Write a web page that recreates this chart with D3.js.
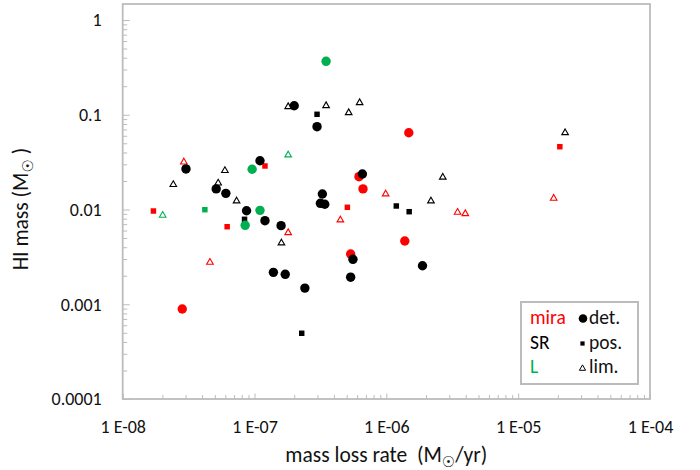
<!DOCTYPE html>
<html>
<head>
<meta charset="utf-8">
<script src="https://cdn.jsdelivr.net/npm/d3@7"></script>
<style>
  body { margin: 0; background: #fff; }
  svg text { font-family: Carlito, Calibri, Lato, sans-serif; fill: #111; }
</style>
</head>
<body>
<svg id="chart" width="700" height="470"></svg>
<script>
// HI mass vs mass loss rate, [mass loss rate, HI mass]
const miraDet = [[2.83e-8, 0.00089], [6.20e-7, 0.0222], [6.65e-7, 0.0165], [1.48e-6, 0.0646], [1.38e-6, 0.00465], [5.36e-7, 0.00339]];
const miraPos = [[1.71e-8, 0.00964], [1.20e-7, 0.0288], [6.20e-8, 0.00658], [5.06e-7, 0.01055], [2.07e-5, 0.046]];
const miraLim = [[2.91e-8, 0.0317], [4.59e-8, 0.00277], [1.80e-7, 0.00569], [4.48e-7, 0.00775], [9.88e-7, 0.01458],
  [3.47e-6, 0.00934], [3.97e-6, 0.00903], [1.86e-5, 0.01313]];

const srDet = [[3.02e-8, 0.0268], [5.12e-8, 0.0165], [6.06e-8, 0.0148], [8.70e-8, 0.00971], [1.10e-7, 0.0327],
  [1.20e-7, 0.00762], [1.59e-7, 0.00675], [2.00e-7, 0.1246], [2.98e-7, 0.0748], [3.27e-7, 0.01458],
  [3.16e-7, 0.01162], [3.41e-7, 0.01135], [6.58e-7, 0.0237], [1.39e-7, 0.00217], [1.71e-7, 0.00207],
  [2.41e-7, 0.00148], [5.58e-7, 0.00298], [5.36e-7, 0.00193], [1.88e-6, 0.00255]];
const srPos = [[8.40e-8, 0.00788], [2.98e-7, 0.1011], [2.28e-7, 0.000494], [1.19e-6, 0.01089], [1.49e-6, 0.00948]];
const srLim = [[2.42e-8, 0.0183], [5.30e-8, 0.0190], [5.96e-8, 0.0257], [7.31e-8, 0.0123], [1.60e-7, 0.00443],
  [1.80e-7, 0.1216], [3.49e-7, 0.1246], [5.18e-7, 0.1051], [6.27e-7, 0.134], [2.18e-6, 0.0123],
  [2.68e-6, 0.0219], [2.27e-5, 0.0646]];

const lDet = [[3.49e-7, 0.3665], [9.59e-8, 0.0266], [1.10e-7, 0.0098], [8.49e-8, 0.00681]];
const lPos = [[4.20e-8, 0.00995]];
const lLim = [[2.01e-8, 0.00868], [1.80e-7, 0.0376]];

const xTicks = [1e-8, 1e-7, 1e-6, 1e-5, 1e-4];
const xTickLabels = ["1 E-08", "1 E-07", "1 E-06", "1 E-05", "1 E-04"];
const yTicks = [0.0001, 0.001, 0.01, 0.1, 1];
const yTickLabels = ["0.0001", "0.001", "0.01", "0.1", "1"];

const groupNames = ["mira", "SR", "L"];
const typeNames = ["det.", "pos.", "lim."];

const red = "#ff0000", green = "#00b050", black = "#000";
const frameColor = "#bcbcbc";

const svg = d3.select("#chart");

const left = 122.7, right = 650, bottom = 399, top1 = 20, frameTop = 4;

const x = d3.scaleLog().domain([1e-8, 1e-4]).range([left, right]);
const y = d3.scaleLog().domain([1e-4, 1]).range([bottom, top1]);

// minor ticks 2..9 in every decade
function minors(domain) {
  const out = [];
  for (let e = Math.log10(domain[0]); e < Math.log10(domain[1]); e++) {
    for (let m = 2; m <= 9; m++) out.push(m * Math.pow(10, e));
  }
  return out;
}

// y axis
svg.append("g")
  .attr("transform", `translate(${left},0)`)
  .call(d3.axisLeft(y).tickValues(minors(y.domain())).tickSize(-4.5).tickFormat(""))
  .call(g => g.select(".domain").remove())
  .selectAll("line").attr("stroke", frameColor);

svg.append("g")
  .attr("transform", `translate(${left},0)`)
  .call(d3.axisLeft(y).tickValues(yTicks).tickSize(-7).tickPadding(21)
    .tickFormat((d, i) => yTickLabels[i]))
  .call(g => g.select(".domain").remove())
  .call(g => g.selectAll("line").attr("stroke", frameColor))
  .selectAll("text")
  .style("font-size", "18px")
  .attr("fill", "#111");

// x axis
svg.append("g")
  .attr("transform", `translate(0,${bottom})`)
  .call(d3.axisBottom(x).tickValues(minors(x.domain())).tickSize(-4).tickFormat(""))
  .call(g => g.select(".domain").remove())
  .selectAll("line").attr("stroke", frameColor);

svg.append("g")
  .attr("transform", `translate(0,${bottom})`)
  .call(d3.axisBottom(x).tickValues(xTicks).tickSize(-5.5).tickPadding(21)
    .tickFormat((d, i) => xTickLabels[i]))
  .call(g => g.select(".domain").remove())
  .call(g => g.selectAll("line").attr("stroke", frameColor))
  .selectAll("text")
  .style("font-size", "18px")
  .attr("fill", "#111");

// plot frame
svg.append("rect")
  .attr("x", left)
  .attr("y", frameTop)
  .attr("width", right - left)
  .attr("height", bottom - frameTop)
  .attr("fill", "none")
  .attr("stroke", frameColor)
  .attr("stroke-width", 1.8);

// axis titles
const xt = svg.append("text")
  .attr("x", (left + right) / 2)
  .attr("y", 462)
  .attr("text-anchor", "middle")
  .style("font-size", "21.5px");
xt.append("tspan").text("mass loss rate\u00a0\u00a0(M");
xt.append("tspan").attr("dy", 5).style("font-size", "15px")
  .style("font-family", "DejaVu Sans").text("\u2609");
xt.append("tspan").attr("dy", -5).text("/yr)");

const yt = svg.append("text")
  .attr("transform", "translate(28,209) rotate(-90)")
  .attr("text-anchor", "middle")
  .style("font-size", "21.5px");
yt.append("tspan").text("HI mass (M");
yt.append("tspan").attr("dy", 5).style("font-size", "15px")
  .style("font-family", "DejaVu Sans").text("\u2609");
yt.append("tspan").attr("dy", -5).text("\u00a0)");

// markers
const plot = svg.append("g");
const tri = d3.symbol(d3.symbolTriangle, 19);
const sq = d3.symbol(d3.symbolSquare, 30);

function drawLim(data, color) {
  plot.selectAll(null).data(data).enter().append("path")
    .attr("d", tri)
    .attr("transform", d => `translate(${x(d[0])},${y(d[1])})`)
    .attr("fill", "#fff")
    .attr("stroke", color)
    .attr("stroke-width", 1.1);
}
function drawPos(data, color) {
  plot.selectAll(null).data(data).enter().append("path")
    .attr("d", sq)
    .attr("transform", d => `translate(${x(d[0])},${y(d[1])})`)
    .attr("fill", color);
}
function drawDet(data, color) {
  plot.selectAll(null).data(data).enter().append("circle")
    .attr("cx", d => x(d[0]))
    .attr("cy", d => y(d[1]))
    .attr("r", 4.7)
    .attr("fill", color);
}

drawLim(srLim, black);
drawLim(miraLim, red);
drawLim(lLim, green);
drawPos(srPos, black);
drawPos(miraPos, red);
drawPos(lPos, green);
drawDet(miraDet, red);
drawDet(srDet, black);
drawDet(lDet, green);

// legend
const legend = svg.append("g");
legend.append("rect")
  .attr("x", 521).attr("y", 302)
  .attr("width", 117).attr("height", 82)
  .attr("fill", "#fff")
  .attr("stroke", frameColor)
  .attr("stroke-width", 2);

const groupColors = [red, black, green];
groupNames.forEach((name, i) => {
  legend.append("text")
    .attr("x", 530).attr("y", 324 + i * 24.5)
    .style("font-size", "19.5px")
    .style("fill", groupColors[i])
    .text(name);
});

legend.append("circle").attr("cx", 583).attr("cy", 318.5).attr("r", 4.3).attr("fill", black);
legend.append("path").attr("d", d3.symbol(d3.symbolSquare, 18))
  .attr("transform", "translate(582.5,343.5)").attr("fill", black);
legend.append("path").attr("d", d3.symbol(d3.symbolTriangle, 17))
  .attr("transform", "translate(582.5,368.5)")
  .attr("fill", "#fff").attr("stroke", black).attr("stroke-width", 1);

typeNames.forEach((name, i) => {
  legend.append("text")
    .attr("x", 589).attr("y", 324 + i * 24.5)
    .style("font-size", "19.5px")
    .text(name);
});
</script>
</body>
</html>
